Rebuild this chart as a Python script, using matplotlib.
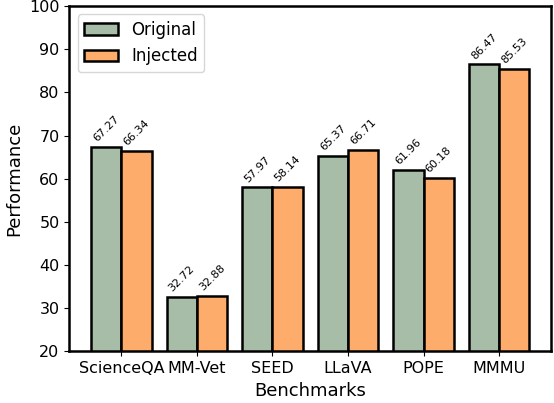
import numpy as np
import matplotlib
matplotlib.use("Agg")
import matplotlib.pyplot as plt

benchmarks = ["ScienceQA", "MM-Vet", "SEED", "LLaVA", "POPE", "MMMU"]
original = [67.27, 32.72, 57.97, 65.37, 61.96, 86.47]
injected = [66.34, 32.88, 58.14, 66.71, 60.18, 85.53]

x = np.arange(len(benchmarks))
width = 0.4

fig, ax = plt.subplots(figsize=(5.54, 4.03), dpi=100)
b1 = ax.bar(x - width / 2, original, width, label="Original",
            color="#a8bda8", edgecolor="black", linewidth=1.8)
b2 = ax.bar(x + width / 2, injected, width, label="Injected",
            color="#fdac6b", edgecolor="black", linewidth=1.8)

# value labels on top of each bar
for bars, vals in [(b1, original), (b2, injected)]:
    for rect, v in zip(bars, vals):
        ax.text(rect.get_x() + rect.get_width() / 2, v + 0.8, "%.2f" % v,
                ha="center", va="bottom", rotation=45, fontsize=8)

ax.set_ylim(20, 100)
ax.set_xticks(x)
ax.set_xticklabels(benchmarks, fontsize=11.5)
ax.tick_params(axis="y", labelsize=11.5)
ax.set_xlabel("Benchmarks", fontsize=13)
ax.set_ylabel("Performance", fontsize=13)
for s in ax.spines.values():
    s.set_linewidth(1.8)
ax.legend(loc="upper left", fontsize=12)

fig.subplots_adjust(left=0.125, right=0.995, top=0.985, bottom=0.128)
fig.savefig("out.png", dpi=100)
